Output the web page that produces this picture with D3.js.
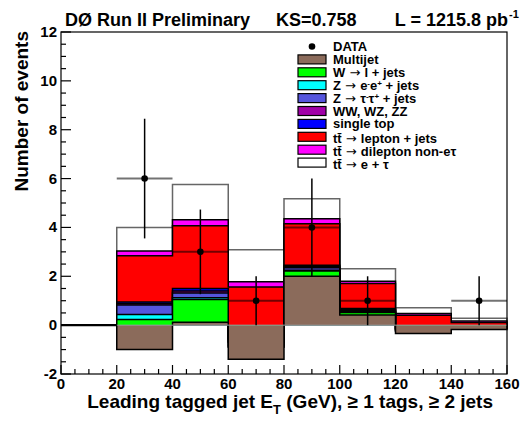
<!DOCTYPE html>
<html><head><meta charset="utf-8">
<script src="https://cdn.jsdelivr.net/npm/d3@7"></script>
<style>
html,body{margin:0;padding:0;background:#fff;}
svg text{font-family:"Liberation Sans",Arial,Helvetica,sans-serif;font-weight:bold;fill:#000;}
svg tspan.arr{font-family:"DejaVu Sans",sans-serif;font-weight:normal;}
</style></head>
<body><svg id="c" width="527" height="422"></svg>
<script>
// ---- data ----
const binEdges = [0, 20, 40, 60, 80, 100, 120, 140, 160];
const multijet  = [0, -1.00, 0.12, -1.40, 2.00, 0.42, -0.34, -0.18];
const wJets     = [0, 1.23, 0.93, 0.50, 0.22, 0.10, 0.10, 0.05];
const zeeJets   = [0, 0.21, 0.07, 0.05, 0.03, 0.03, 0.02, 0.01];
const zttJets   = [0, 0.38, 0.20, 0.15, 0.10, 0.06, 0.05, 0.02];
const diboson   = [0, 0.06, 0.08, 0.05, 0.05, 0.03, 0.02, 0.01];
const singleTop = [0, 0.07, 0.10, 0.10, 0.05, 0.04, 0.03, 0.02];
const ttLepJets = [0, 1.89, 2.57, 2.11, 1.70, 1.02, 0.53, 0.18];
const ttDilep   = [0, 0.19, 0.24, 0.22, 0.21, 0.10, 0.07, 0.06];
const ttETau    = [0, 0.97, 1.45, 1.31, 0.81, 0.51, 0.23, 0.11];
const dataCounts = [0, 6, 3, 1, 4, 1, 0, 1];
const xTicks = [0, 20, 40, 60, 80, 100, 120, 140, 160];
const yTicks = [-2, 0, 2, 4, 6, 8, 10, 12];

const seriesNames = ["Multijet", "W", "Zee", "Ztt", "WW", "singleTop", "ttLJ", "ttDil", "ttETau"];
const seriesVals = [multijet, wJets, zeeJets, zttJets, diboson, singleTop, ttLepJets, ttDilep, ttETau];
const seriesColors = ["#8b6b5b", "#00ff00", "#00ffff", "#5555dd", "#a000a8", "#0000ff", "#ff0000", "#ff00ff", "#ffffff"];

// ---- layout ----
const svg = d3.select("#c");
const L = 61, R = 507, T = 32, B = 374;
const x = d3.scaleLinear().domain([0, 160]).range([L, R]);
const y = d3.scaleLinear().domain([-2, 12]).range([B, T]);

// cumulative
const cum = [];
seriesVals.forEach((v, k) => {
  cum.push(v.map((d, b) => d + (k > 0 ? cum[k - 1][b] : 0)));
});

function stepPts(c) {
  const pts = [];
  c.forEach((v, b) => { pts.push([binEdges[b], v]); pts.push([binEdges[b + 1], v]); });
  return pts;
}
const area = d3.area().x(d => x(d[0])).y0(y(0)).y1(d => y(d[1]));
const line = d3.line().x(d => x(d[0])).y(d => y(d[1]));

const g = svg.append("g");
for (let k = seriesVals.length - 1; k >= 0; k--) {
  const pts = stepPts(cum[k]);
  g.append("path").attr("d", area(pts)).attr("fill", seriesColors[k]).attr("stroke", "none");
  const outline = [[0, 0]].concat(pts).concat([[160, 0]]);
  g.append("path").attr("d", line(outline)).attr("fill", "none")
    .attr("stroke", k === seriesVals.length - 1 ? "#666" : "#000")
    .attr("stroke-width", 1.5);
}
g.append("line").attr("x1", x(20)).attr("x2", x(160)).attr("y1", y(0)).attr("y2", y(0))
  .attr("stroke", "#999").attr("stroke-width", 1);
g.append("line").attr("x1", x(0)).attr("x2", x(20)).attr("y1", y(0)).attr("y2", y(0))
  .attr("stroke", "#000").attr("stroke-width", 2);

// ---- data points ----
const dg = svg.append("g");
dataCounts.forEach((n, b) => {
  if (n <= 0) return;
  const xc = (binEdges[b] + binEdges[b + 1]) / 2;
  const e = Math.sqrt(n);
  dg.append("line").attr("x1", x(binEdges[b])).attr("x2", x(binEdges[b + 1]))
    .attr("y1", y(n)).attr("y2", y(n)).attr("stroke", "#000").attr("stroke-opacity", 0.55).attr("stroke-width", 2);
  dg.append("line").attr("x1", x(xc)).attr("x2", x(xc))
    .attr("y1", y(n - e)).attr("y2", y(n + e)).attr("stroke", "#000").attr("stroke-width", 1.5);
  dg.append("circle").attr("cx", x(xc)).attr("cy", y(n)).attr("r", 3.3).attr("fill", "#000");
});

// ---- frame & axes ----
svg.append("rect").attr("x", L).attr("y", T).attr("width", R - L).attr("height", B - T)
  .attr("fill", "none").attr("stroke", "#000").attr("stroke-width", 1.2);
const ax = svg.append("g");
d3.range(0, 160.01, 5).forEach(v => {
  const major = v % 20 === 0;
  ax.append("line").attr("x1", x(v)).attr("x2", x(v)).attr("y1", B).attr("y2", B - (major ? 9 : 5))
    .attr("stroke", "#000").attr("stroke-width", 1.2);
});
d3.range(-2, 12.01, 0.5).forEach(v => {
  const major = Math.abs(v % 2) < 1e-9;
  ax.append("line").attr("x1", L).attr("x2", L + (major ? 10 : 5)).attr("y1", y(v)).attr("y2", y(v))
    .attr("stroke", "#000").attr("stroke-width", 1.2);
});
xTicks.forEach(v => {
  ax.append("text").attr("x", x(v)).attr("y", 389).attr("text-anchor", "middle")
    .attr("font-size", 15).text(v);
});
yTicks.forEach(v => {
  ax.append("text").attr("x", 57).attr("y", y(v) + 5).attr("text-anchor", "end")
    .attr("font-size", 15).text(v);
});

// axis titles
const xt = svg.append("text").attr("x", 493).attr("y", 408).attr("text-anchor", "end").attr("font-size", 19);
xt.append("tspan").text("Leading tagged jet E");
xt.append("tspan").attr("font-size", 13).attr("dy", 6).text("T");
xt.append("tspan").attr("dy", -6).text(" (GeV), \u2265 1 tags, \u2265 2 jets");

svg.append("text").attr("transform", "translate(28,31) rotate(-90)").attr("text-anchor", "end")
  .attr("font-size", 19).text("Number of events");

// header
svg.append("text").attr("x", 65).attr("y", 26).attr("font-size", 18).text("D\u00D8 Run II Preliminary");
svg.append("text").attr("x", 276).attr("y", 26).attr("font-size", 18).text("KS=0.758");
const lt = svg.append("text").attr("x", 508).attr("y", 26).attr("text-anchor", "end").attr("font-size", 18);
lt.append("tspan").text("L = 1215.8 pb");
svg.append("text").attr("x", 509).attr("y", 18).attr("font-size", 11).text("-1");

// ---- legend ----
const lg = svg.append("g");
const rowY = i => 46.5 + 12.9 * i;
lg.append("circle").attr("cx", 312).attr("cy", rowY(0)).attr("r", 3.3).attr("fill", "#000");
const ARR = {a: " \u2192 "};
const labels = [
  ["DATA"],
  ["Multijet"],
  ["W", ARR, "l + jets"],
  ["Z", ARR, "e", {s: "-"}, "e", {s: "+"}, " + jets"],
  ["Z", ARR, "\u03C4", {s: "-"}, "\u03C4", {s: "+"}, " + jets"],
  ["WW, WZ, ZZ"],
  ["single top"],
  ["tt\u0304", ARR, "lepton + jets"],
  ["tt\u0304", ARR, "dilepton non-e\u03C4"],
  ["tt\u0304", ARR, "e + \u03C4"]
];
labels.forEach((parts, i) => {
  const ttRow = i >= 7;
  const t = lg.append("text").attr("x", 333).attr("y", rowY(i) + (ttRow ? 6.5 : 4.5)).attr("font-size", 13);
  let sup = false;
  parts.forEach(p => {
    let ts;
    if (typeof p === "object" && p.s !== undefined) {
      t.append("tspan").attr("font-size", 8).attr("dy", -4).text(p.s);
      sup = true;
      return;
    } else if (typeof p === "object" && p.a !== undefined) {
      ts = t.append("tspan").attr("class", "arr").attr("font-size", 13).text(p.a);
    } else {
      ts = t.append("tspan").text(p);
    }
    if (sup) { ts.attr("dy", 4); sup = false; }
  });
});
for (let k = 0; k < seriesVals.length; k++) {
  const i = k + 1;
  lg.append("rect").attr("x", 298).attr("y", rowY(i) - 4.5).attr("width", 28).attr("height", 9)
    .attr("fill", seriesColors[k]).attr("stroke", "#000").attr("stroke-width", 1.2);
}
</script></body></html>
